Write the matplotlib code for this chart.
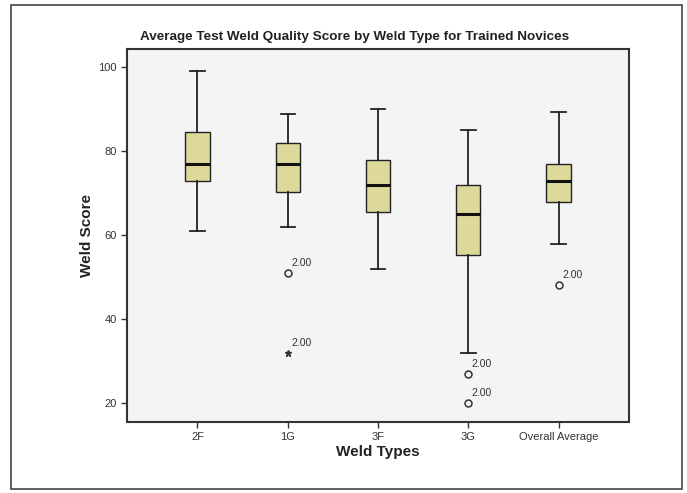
import matplotlib.pyplot as plt
from matplotlib.patches import Rectangle

plt.rcParams['font.family'] = ['Liberation Sans', 'DejaVu Sans']

# Daten
weld_types = ['2F', '1G', '3F', '3G', 'Overall Average']
whislo = [61.0, 61.9, 51.9, 32.0, 57.9]
q1 = [72.9, 70.3, 65.4, 55.3, 67.9]
med = [77.0, 77.0, 72.0, 64.9, 72.9]
q3 = [84.4, 81.9, 77.8, 72.0, 76.9]
whishi = [99.0, 88.8, 90.0, 85.0, 89.2]

# Ausreisser: (Gruppe, Wert, Symbol)
outliers = [(1, 50.9, 'o'), (1, 31.9, '*'), (3, 26.9, 'o'), (3, 20.0, 'o'), (4, 48.2, 'o')]
outlier_label = '2.00'

fig = plt.figure(figsize=(6.87, 4.93), dpi=100)
fig.patch.set_facecolor('white')

# Rahmen um die ganze Grafik
fig.patches.append(Rectangle((11 / 687, 4 / 493), 671 / 687, 484 / 493, transform=fig.transFigure,
                             fill=False, edgecolor='#444444', linewidth=1.2))

ax = fig.add_axes([0.1849, 0.144, 0.7307, 0.7566])
ax.set_facecolor('#f4f4f4')

stats = []
for i, name in enumerate(weld_types):
    stats.append({'label': name, 'whislo': whislo[i], 'q1': q1[i], 'med': med[i],
                  'q3': q3[i], 'whishi': whishi[i], 'fliers': []})

pos = list(range(1, len(weld_types) + 1))
ax.bxp(stats, positions=pos, widths=0.27, patch_artist=True, showfliers=False,
       boxprops=dict(facecolor='#dcd99b', edgecolor='#222222', linewidth=1.0),
       medianprops=dict(color='#111111', linewidth=2.2),
       whiskerprops=dict(color='#222222', linewidth=1.3),
       capprops=dict(color='#222222', linewidth=1.3), capwidths=0.16)

for g, val, sym in outliers:
    x = pos[g]
    if sym == 'o':
        ax.plot(x, val, 'o', markerfacecolor='none', markeredgecolor='#333333',
                markersize=5, markeredgewidth=1.1)
    else:
        ax.plot(x, val, '*', color='#333333', markersize=5)
    ax.text(x + 0.04, val + 1.2, outlier_label, fontsize=7.5, color='#333333',
            ha='left', va='bottom')

ax.set_xlim(0.22, 5.78)
ax.set_ylim(15.6, 104.2)
ax.set_yticks([20, 40, 60, 80, 100])
ax.set_xticks(pos)
ax.set_xticklabels(weld_types)
ax.tick_params(axis='both', labelsize=8, colors='#333333', direction='out', length=4, width=1)

for s in ax.spines.values():
    s.set_color('#333333')
    s.set_linewidth(1.5)

# Titel etwas links von der Mitte, wie im Original
fig.text(355 / 687, 1 - 37 / 493, 'Average Test Weld Quality Score by Weld Type for Trained Novices',
         fontsize=9.7, fontweight='bold', color='#222222', ha='center', va='center')
ax.set_ylabel('Weld Score', fontsize=11, fontweight='bold', color='#222222', labelpad=3)
ax.set_xlabel('Weld Types', fontsize=11, fontweight='bold', color='#222222', labelpad=2)

fig.savefig('out.png', dpi=100)
